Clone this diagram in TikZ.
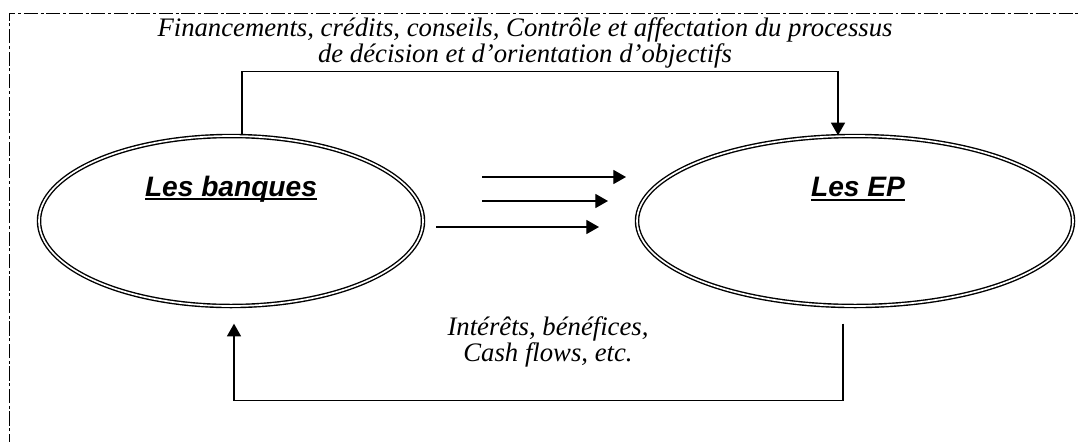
\documentclass[tikz,border=0pt]{standalone}
\usepackage{fontspec}
\setmainfont{Liberation Serif}
\newfontfamily\titrefont{Liberation Sans}
\usepackage{tikz}
\usetikzlibrary{shapes,arrows.meta,positioning}

\newcommand\souligne[1]{\setbox0\hbox{#1}\rlap{\rule[-2.6pt]{\wd0}{1.3pt}}\box0}

\begin{document}
\begin{tikzpicture}
			\tikzstyle{Entite}	= [ellipse, draw, double, double distance=1.2pt, line width=1pt, minimum height=4.25cm, inner sep=0pt]
			\tikzstyle{Nom}		= [font=\titrefont\bfseries\itshape\fontsize{20}{24}\selectfont, inner sep=0pt]
			\tikzstyle{Flux}	= [line width=0.9pt, -{Triangle[length=9pt,width=10pt]}]
			\tikzstyle{Texte}	= [font=\itshape\fontsize{19}{19}\selectfont, align=center, inner sep=0pt]
			\tikzstyle{Cadre}	= [line width=0.7pt, dash pattern=on 10pt off 2pt on 2pt off 2pt]

			\useasboundingbox (0,0) rectangle (27,-11.025);
			\draw [Cadre] (0.225,-11.2) -- (0.225,-0.325) -- (27.2,-0.325);

			\node (b) at (5.775, -5.525) [Entite, minimum width=9.6cm] {};
			\node (ep) at (21.375, -5.525) [Entite, minimum width=10.9cm] {};
			\node (nb) at ([yshift=0.8cm]b.center) [Nom] {\souligne{Les banques}};
			\node (nep) at ([xshift=0.075cm, yshift=0.8cm]ep.center) [Nom] {\souligne{Les EP}};

			\node (haut) at (13.125, -1.07) [Texte] {Financements, crédits, conseils, Contrôle et affectation du processus\\ de décision et d'orientation d'objectifs};
			\node (bas) at (13.7, -8.55) [Texte] {Intérêts, bénéfices,\\ Cash flows, etc.};

			\coordinate (d1) at (12.05, -4.425);
			\coordinate (f1) at (15.65, -4.425);
			\coordinate (d2) at (12.05, -5.025);
			\coordinate (f2) at (15.2, -5.025);
			\coordinate (d3) at (10.9, -5.675);
			\coordinate (f3) at (14.975, -5.675);

			\draw [Flux] (d1) -- (f1);
			\draw [Flux] (d2) -- (f2);
			\draw [Flux] (d3) -- (f3);

			\draw [Flux] ([xshift=0.275cm]b.north) -- ++(0,1.6) -| ([xshift=-0.425cm]ep.north);
			\draw [Flux] ([shift={(-0.3,-0.425)}]ep.south) -- ++(0,-1.925) -| ([shift={(0.075,-0.425)}]b.south);
		\end{tikzpicture}
\end{document}
